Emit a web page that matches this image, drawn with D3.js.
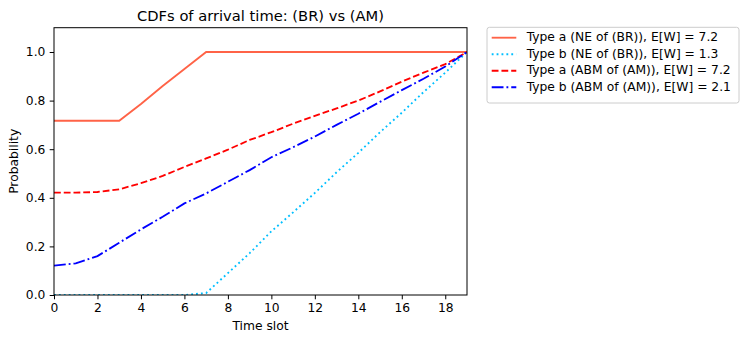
<!DOCTYPE html>
<html>
<head>
  <meta charset="utf-8">
  <script src="https://d3js.org/d3.v7.min.js"></script>
  <style>
    body{ margin: 0; background: #fff; }
    text{
      font-family: "DejaVu Sans", sans-serif;
      font-size: 12.3px;
      fill: #000;
    }
    text.title{ font-size: 14.7px; }
    .tick line{ stroke: #000; stroke-width: 1; }
    path.domain{ display: none; }
  </style>
</head>
<body>
<script>

  // time slots 0..19
  var slots = [0,1,2,3,4,5,6,7,8,9,10,11,12,13,14,15,16,17,18,19];

  var typeA_NE  = [0.717,0.717,0.717,0.717,0.786,0.86,0.93,1.0,1.0,1.0,1.0,1.0,1.0,1.0,1.0,1.0,1.0,1.0,1.0,1.0];
  var typeB_NE  = [0,0,0,0,0,0,0,0.008,0.09,0.172,0.262,0.34,0.42,0.505,0.585,0.67,0.75,0.835,0.915,1.0];
  var typeA_ABM = [0.421,0.421,0.424,0.435,0.46,0.49,0.527,0.562,0.598,0.638,0.67,0.705,0.737,0.768,0.80,0.838,0.878,0.915,0.95,1.0];
  var typeB_ABM = [0.121,0.13,0.16,0.215,0.27,0.322,0.377,0.418,0.466,0.514,0.567,0.608,0.652,0.70,0.746,0.795,0.843,0.89,0.94,1.0];

  var seriesNames = [
    'Type a (NE of (BR)), E[W] = 7.2',
    'Type b (NE of (BR)), E[W] = 1.3',
    'Type a (ABM of (AM)), E[W] = 7.2',
    'Type b (ABM of (AM)), E[W] = 2.1'
  ];

  var xTicks = [0,2,4,6,8,10,12,14,16,18];
  var yTicks = [0,0.2,0.4,0.6,0.8,1.0];

  var series = [
    {name: seriesNames[0], values: typeA_NE,  colour: '#ff6347', dash: null},
    {name: seriesNames[1], values: typeB_NE,  colour: '#00bfff', dash: '1.85,3.05'},
    {name: seriesNames[2], values: typeA_ABM, colour: '#ff0000', dash: '6.8,2.95'},
    {name: seriesNames[3], values: typeB_ABM, colour: '#0000ff', dash: '11.8,2.95,1.85,2.95'}
  ];

  var width = 748, height = 342;
  var margin = {top: 27.7, left: 54, right: 467, bottom: 295};

  var svg = d3.select('body').append('svg')
    .attr('width', width)
    .attr('height', height);

  var x = d3.scaleLinear()
    .domain([0, 19])
    .range([margin.left, margin.right]);

  var y = d3.scaleLinear()
    .domain([0, 1.1])
    .range([margin.bottom, margin.top]);

  var xAxis = d3.axisBottom(x)
    .tickValues(xTicks)
    .tickSize(4.3)
    .tickPadding(4.3)
    .tickFormat(d3.format('d'));

  var yAxis = d3.axisLeft(y)
    .tickValues(yTicks)
    .tickSize(4.3)
    .tickPadding(4.3)
    .tickFormat(d3.format('.1f'));

  var gx = svg.append('g')
    .attr('transform', `translate(0, ${margin.bottom})`)
    .call(xAxis);
  gx.attr('font-size', null).attr('font-family', null);

  var gy = svg.append('g')
    .attr('transform', `translate(${margin.left}, 0)`)
    .call(yAxis);
  gy.attr('font-size', null).attr('font-family', null);

  // lines
  var line = d3.line()
    .x((d, i) => x(slots[i]))
    .y(d => y(d));

  svg.append('clipPath').attr('id', 'clip')
    .append('rect')
    .attr('x', margin.left).attr('y', margin.top)
    .attr('width', margin.right - margin.left)
    .attr('height', margin.bottom - margin.top);

  svg.append('g')
    .attr('clip-path', 'url(#clip)')
    .selectAll('path.series')
    .data(series)
    .enter()
    .append('path')
    .attr('class', 'series')
    .attr('d', d => line(d.values))
    .attr('fill', 'none')
    .attr('stroke', d => d.colour)
    .attr('stroke-width', 1.85)
    .attr('stroke-dasharray', d => d.dash);

  // frame
  svg.append('rect')
    .attr('x', margin.left)
    .attr('y', margin.top)
    .attr('width', margin.right - margin.left)
    .attr('height', margin.bottom - margin.top)
    .attr('fill', 'none')
    .attr('stroke', '#000')
    .attr('stroke-width', 1);

  // title & labels
  svg.append('text')
    .attr('class', 'title')
    .attr('x', (margin.left + margin.right) / 2)
    .attr('y', 21)
    .style('text-anchor', 'middle')
    .text('CDFs of arrival time: (BR) vs (AM)');

  svg.append('text')
    .attr('x', (margin.left + margin.right) / 2)
    .attr('y', 330)
    .style('text-anchor', 'middle')
    .text('Time slot');

  svg.append('text')
    .attr('transform', `translate(17.6, ${(margin.top + margin.bottom) / 2}) rotate(-90)`)
    .style('text-anchor', 'middle')
    .text('Probability');

  // legend
  var legend = svg.append('g').attr('transform', 'translate(487, 27.3)');
  legend.append('rect')
    .attr('width', 252)
    .attr('height', 75.7)
    .attr('rx', 2.5)
    .attr('fill', '#fff')
    .attr('stroke', '#cccccc')
    .attr('stroke-width', 1);

  var items = legend.selectAll('g.item')
    .data(series)
    .enter()
    .append('g')
    .attr('class', 'item')
    .attr('transform', (d, i) => `translate(0, ${10.4 + i * 16.53})`);

  items.append('line')
    .attr('x1', 4.7).attr('x2', 29.3)
    .attr('stroke', d => d.colour)
    .attr('stroke-width', 1.85)
    .attr('stroke-dasharray', d => d.dash);

  items.append('text')
    .attr('x', 39.7)
    .attr('y', 3.4)
    .text(d => d.name);

</script>
</body>
</html>
